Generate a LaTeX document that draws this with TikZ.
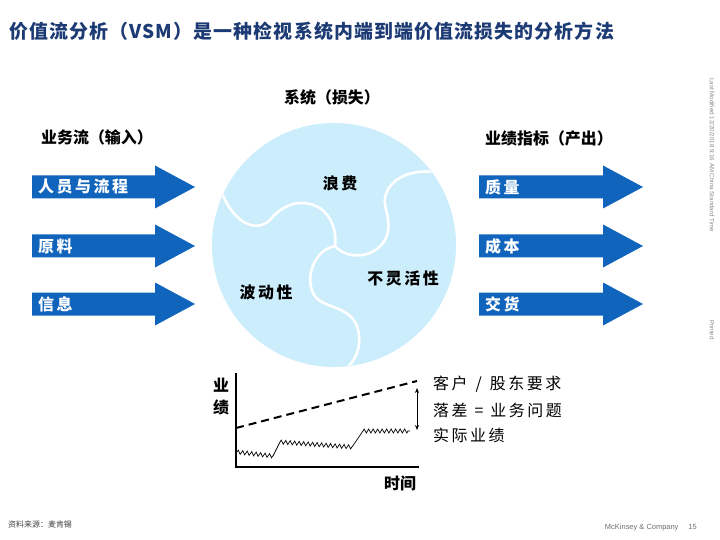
\documentclass[tikz,border=0pt]{standalone}
\usepackage{fontspec}
\setmainfont{Liberation Sans}
\newfontfamily\cjk{Noto Sans CJK SC}
\newfontfamily\cjksp[LetterSpace=16]{Noto Sans CJK SC}
\newfontfamily\cjktitle[LetterSpace=6]{Noto Sans CJK SC}
\usetikzlibrary{decorations.pathmorphing,arrows.meta}
\definecolor{arrowblue}{RGB}{16,100,188}
\definecolor{circblue}{RGB}{204,237,251}
\definecolor{titleblue}{RGB}{28,58,115}
\definecolor{footgray}{RGB}{110,110,110}
\tikzset{
  flowarrow/.style={fill=arrowblue, draw=none},
  arrowlabel/.style={anchor=west, text=white, font=\cjksp\bfseries\fontsize{16}{18}\selectfont, inner sep=0pt},
  headlabel/.style={font=\cjk\bfseries\fontsize{16}{18}\selectfont, inner sep=0pt},
  puzzlelabel/.style={font=\cjksp\bfseries\fontsize{16}{18}\selectfont, inner sep=0pt},
  chartlabel/.style={anchor=west, font=\cjksp\fontsize{16}{18}\selectfont, inner sep=0pt},
  puzzleline/.style={draw=white, line width=2.6bp},
  wavy/.style={decorate, decoration={zigzag, segment length=4.5bp, amplitude=2bp}},
  smalltext/.style={text=footgray, font=\fontsize{7.5}{9}\selectfont, inner sep=0pt},
  sidetext/.style={text=footgray!80, font=\fontsize{6.2}{7}\selectfont, inner sep=0pt, rotate=-90, anchor=west},
}
\begin{document}
\begin{tikzpicture}[x=1bp,y=-1bp]
\useasboundingbox (0,0) rectangle (720,540);

% title
\node[anchor=west, inner sep=0pt, text=titleblue, font=\cjktitle\bfseries\fontsize{19}{22}\selectfont] (title) at (9,31) {价值流分析（VSM）是一种检视系统内端到端价值流损失的分析方法};

% headings
\node[headlabel] (inhead) at (97,137) {业务流（输入）};
\node[headlabel] (syshead) at (332,97) {系统（损失）};
\node[headlabel] (outhead) at (549,138) {业绩指标（产出）};

% left arrows
\foreach \c/\n/\t in {187/la1/人员与流程, 246/la2/原料, 304/la3/信息}{
  \fill[flowarrow] (32,\c-11.5) -- (155,\c-11.5) -- (155,\c-21.5) -- (195,\c) -- (155,\c+21.5) -- (155,\c+11.5) -- (32,\c+11.5) -- cycle;
  \node[arrowlabel] (\n) at (38,\c) {\t};
}
% right arrows
\foreach \c/\n/\t in {187/ra1/质量, 246/ra2/成本, 304/ra3/交货}{
  \fill[flowarrow] (479,\c-11.5) -- (603,\c-11.5) -- (603,\c-21.5) -- (643,\c) -- (603,\c+21.5) -- (603,\c+11.5) -- (479,\c+11.5) -- cycle;
  \node[arrowlabel] (\n) at (485,\c) {\t};
}

% circle
\node[circle, fill=circblue, minimum size=244bp, inner sep=0pt] (sys) at (334,245) {};
\begin{scope}
  \clip (334,245) circle[radius=121.5bp];
  \draw[puzzleline] (220,188) .. controls (232,222) and (255,234) .. (270,220)
     .. controls (282,205) and (300,198) .. (318,207)
     .. controls (332,215) and (337,232) .. (335,246);
  \draw[puzzleline] (335,246) .. controls (345,258) and (370,260) .. (383,243)
     .. controls (392,230) and (388,218) .. (385,205)
     .. controls (382,185) and (405,166) .. (440,173);
  \draw[puzzleline] (335,246) .. controls (315,250) and (305,275) .. (313,293)
     .. controls (320,308) and (345,305) .. (355,322)
     .. controls (362,335) and (362,358) .. (342,372);
\end{scope}
\node[puzzlelabel] (waste) at (340,183) {浪费};
\node[puzzlelabel] (inflex) at (403,278) {不灵活性};
\node[puzzlelabel] (vari) at (266,292) {波动性};

% chart
\coordinate (ytop) at (236,373);
\coordinate (orig) at (236,467);
\coordinate (xend) at (419,467);
\draw[line width=1.2bp] (ytop) -- (orig) -- (xend);
\coordinate (d0) at (236,428);
\coordinate (d1) at (417,381);
\draw[line width=2bp, dash pattern=on 8bp off 5bp] (d0) -- (d1);
\coordinate (w0) at (237,452);
\coordinate (w1) at (273,456);
\coordinate (w2) at (280,442);
\coordinate (w3) at (352,447);
\coordinate (w4) at (363,431);
\coordinate (w5) at (410,431);
\draw[line width=0.7bp] (w1) -- (w2);
\draw[line width=0.7bp] (w3) -- (w4);
\draw[line width=0.7bp, wavy] (w0) -- (w1);
\draw[line width=0.7bp, wavy] (w2) -- (w3);
\draw[line width=0.7bp, wavy] (w4) -- (w5);
\coordinate (g0) at (417,388);
\coordinate (g1) at (417,430);
\draw[line width=0.7bp, {Stealth[length=5bp,width=4bp]}-{Stealth[length=5bp,width=4bp]}] (g0) -- (g1);
\node[headlabel] (yl1) at (221,385) {业};
\node[headlabel] (yl2) at (221,407) {绩};
\node[headlabel] (xl) at (400,483) {时间};
\node[chartlabel] (c1) at (433,384) {客户\hspace{8bp}/\hspace{8bp}股东要求};
\node[chartlabel] (c2) at (433,410) {落差\hspace{7bp}=\hspace{7bp}业务问题};
\node[chartlabel] (c3) at (433,435) {实际业绩};

% side and footer text
\node[sidetext] (lastmod) at (712,78) {Last Modified 12/20/2018 9:16 AM China Standard Time};
\node[sidetext] (printed) at (712,320) {Printed};
\node[smalltext, anchor=east] (mck) at (697,528) {McKinsey \& Company\hspace{10bp}15};
\node[anchor=west, inner sep=0pt, text=black!75, font=\cjk\fontsize{8}{9}\selectfont] (src) at (8,524) {资料来源：麦肯锡};
\end{tikzpicture}
\end{document}
